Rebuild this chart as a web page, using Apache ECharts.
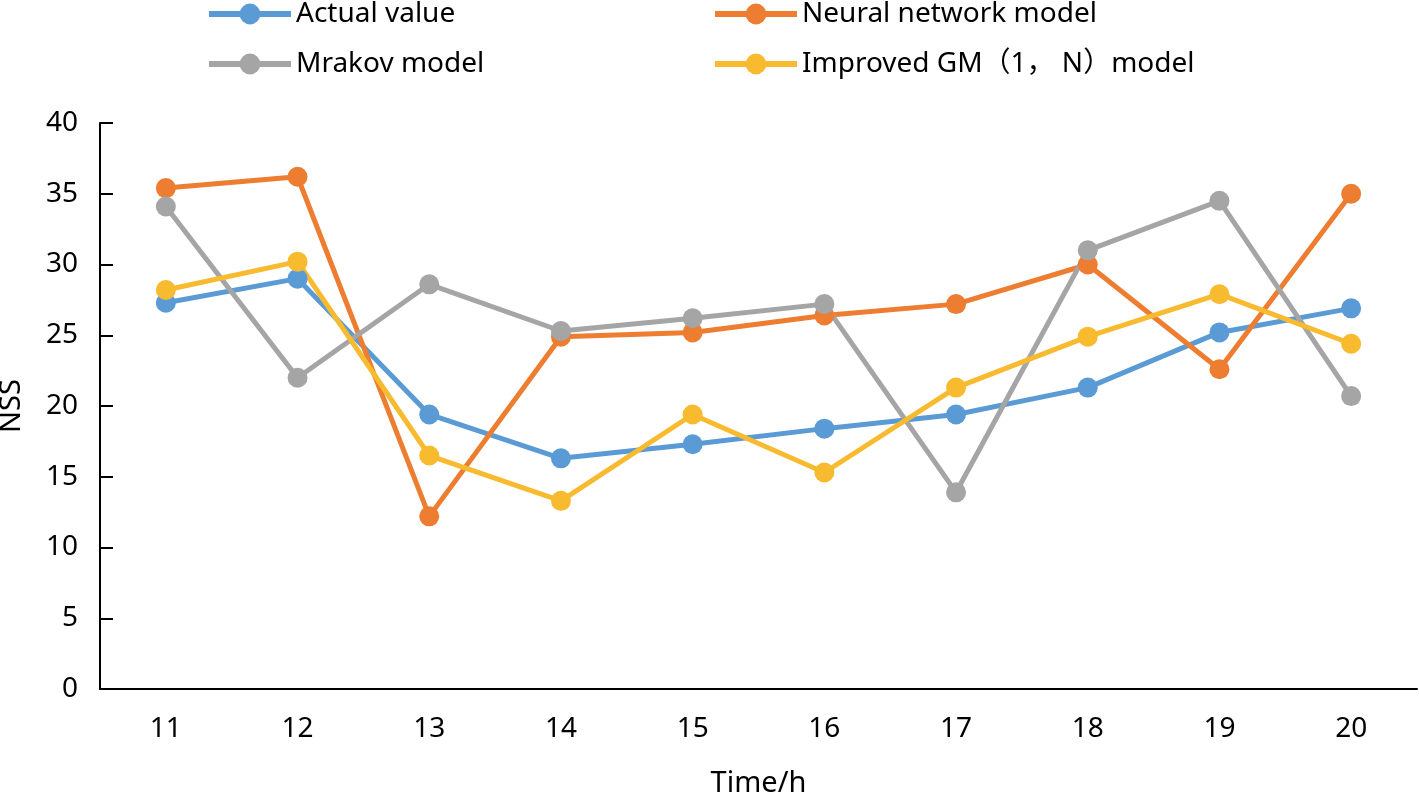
<!DOCTYPE html>
<html><head><meta charset="utf-8">
<script src="https://cdn.jsdelivr.net/npm/echarts@6/dist/echarts.min.js"></script>
<style>html,body{margin:0;padding:0;background:#fff}#c{width:1419px;height:801px}</style>
</head><body><div id="c"></div>
<script>
var categories = ['11','12','13','14','15','16','17','18','19','20'];
var actualValue = [27.3, 29.0, 19.4, 16.3, 17.3, 18.4, 19.4, 21.3, 25.2, 26.9];
var neuralNetwork = [35.4, 36.2, 12.2, 24.9, 25.2, 26.4, 27.2, 30.0, 22.6, 35.0];
var mrakovModel = [34.1, 22.0, 28.6, 25.3, 26.2, 27.2, 13.9, 31.0, 34.5, 20.7];
var improvedGM = [28.2, 30.2, 16.5, 13.3, 19.4, 15.3, 21.3, 24.9, 27.9, 24.4];
var seriesNames = ['Actual value', 'Neural network model', 'Mrakov model', 'Improved GM\uff081\uff0c N\uff09model'];
var colors = ['#5B9BD5', '#ED7D31', '#A5A5A5', '#F8BA2F'];

var font = '"Noto Sans", "Noto Sans CJK SC", sans-serif';
var chart = echarts.init(document.getElementById('c'), null, {renderer: 'canvas'});
function mk(name, data, color) {
  return {
    name: name, type: 'line', data: data,
    symbol: 'circle', symbolSize: 20,
    lineStyle: {width: 5, color: color},
    itemStyle: {color: color},
    animation: false
  };
}
var legendCommon = {
  orient: 'vertical', top: 0, padding: 0, itemWidth: 82, itemHeight: 26, itemGap: 22,
  textStyle: {fontFamily: font, fontSize: 28, color: '#000'},
  itemStyle: {borderWidth: 0},
  lineStyle: {width: 6}
};
chart.setOption({
  animation: false,
  textStyle: {fontFamily: font},
  legend: [
    Object.assign({}, legendCommon, {left: 206, data: [seriesNames[0], seriesNames[2]]}),
    Object.assign({}, legendCommon, {left: 712, data: [seriesNames[1], seriesNames[3]]})
  ],
  grid: {left: 100, top: 123, right: 2, bottom: 112, containLabel: false, outerBoundsMode: 'none'},
  xAxis: {
    type: 'category', data: categories, boundaryGap: true,
    name: 'Time/h', nameLocation: 'middle', nameGap: 80,
    nameTextStyle: {fontFamily: font, fontSize: 29, color: '#000'},
    axisLine: {lineStyle: {color: '#000', width: 2}},
    axisTick: {inside: true, length: 12, lineStyle: {color: '#000', width: 2}},
    axisLabel: {fontFamily: font, fontSize: 28, color: '#000', margin: 26}
  },
  yAxis: {
    type: 'value', min: 0, max: 40, interval: 5,
    name: 'NSS', nameLocation: 'middle', nameGap: 74, nameRotate: 90,
    nameTextStyle: {fontFamily: font, fontSize: 29, color: '#000'},
    axisLine: {show: true, lineStyle: {color: '#000', width: 2}},
    axisTick: {show: true, inside: true, length: 13, lineStyle: {color: '#000', width: 2}},
    splitLine: {show: false},
    axisLabel: {fontFamily: font, fontSize: 28, color: '#000', margin: 22}
  },
  series: [
    mk(seriesNames[0], actualValue, colors[0]),
    mk(seriesNames[1], neuralNetwork, colors[1]),
    mk(seriesNames[2], mrakovModel, colors[2]),
    mk(seriesNames[3], improvedGM, colors[3])
  ]
});
</script></body></html>
